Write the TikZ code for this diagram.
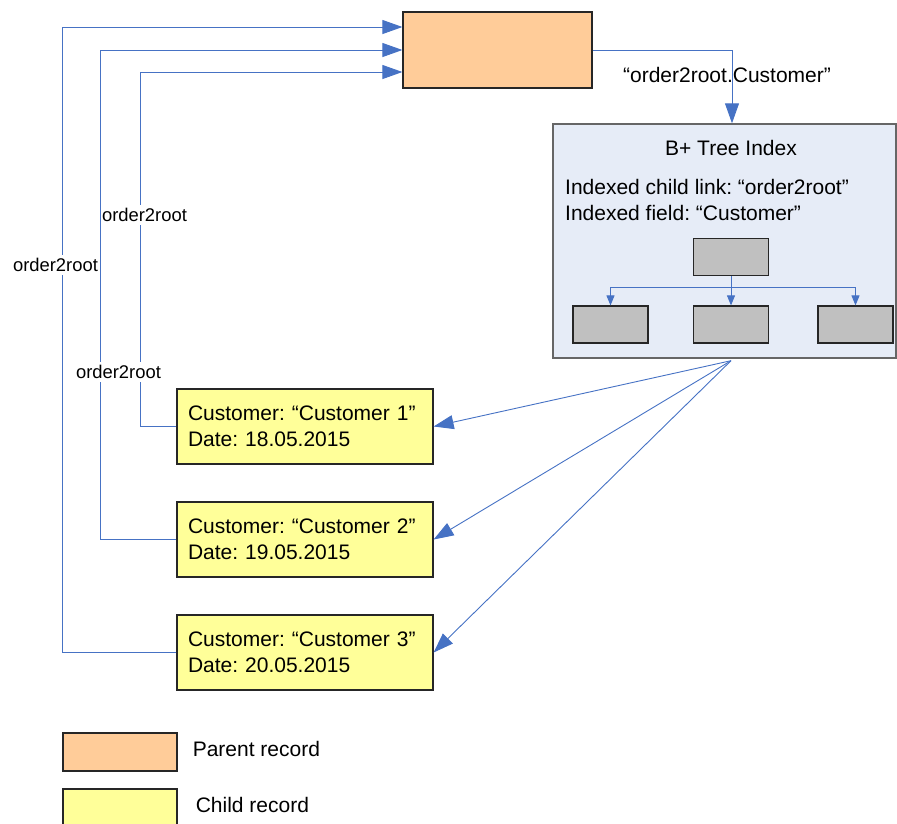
\documentclass[tikz,border=0pt]{standalone}
\usepackage{fontspec}
\setmainfont{Liberation Sans}
\usetikzlibrary{arrows.meta,calc,positioning}
\frenchspacing
\definecolor{ixBlue}{RGB}{70,114,196}
\definecolor{ixPeach}{RGB}{255,204,153}
\definecolor{ixLemon}{RGB}{255,255,153}
\definecolor{ixPale}{RGB}{230,236,247}
\definecolor{ixGrey}{RGB}{192,192,192}
\definecolor{ixInk}{RGB}{38,38,38}
\tikzset{
  link/.style={draw=ixBlue,line width=0.9pt,-{Triangle[length=20pt,width=14pt]}},
  twig/.style={draw=ixBlue,line width=0.9pt,-{Triangle[length=10pt,width=8pt]}},
  record/.style={draw=ixInk,line width=1.2pt,inner sep=0pt},
  childbox/.style={record,fill=ixLemon,minimum height=75pt,text width=234pt,inner xsep=11pt,align=left},
  leaf/.style={record,fill=ixGrey,minimum width=75pt,minimum height=37pt},
  tag/.style={fill=white,inner xsep=1pt,inner ysep=3pt,font=\fontsize{18.4}{20}\selectfont},
}
\newcommand{\childrecord}[4]{%
  \node[childbox] (#1) at (305,#2) {Customer: “Customer #3”\\Date: #4};
}

\begin{document}
\begin{tikzpicture}[x=1pt,y=-1pt,font=\fontsize{21}{26}\selectfont]
  \useasboundingbox (0,0) rectangle (897,823);
  % parent and index
  \node[record,fill=ixPeach,minimum width=189pt,minimum height=76pt] (parent) at (497.5,50) {};
  \node[draw=black!60,line width=1.4pt,fill=ixPale,minimum width=343pt,minimum height=234pt,inner sep=0pt] (index) at (724.5,241) {};
  \node (title) at (731,148) {B+ Tree Index};
  \node[anchor=west,inner sep=0pt] (linkfield) at (565,187) {Indexed child link: “order2root”};
  \node[anchor=west,inner sep=0pt] (keyfield) at (565,213) {Indexed field: “Customer”};
  \node[leaf] (root) at (731,257) {};
  \node[leaf] (leafl) at (610.5,324.5) {};
  \node[leaf] (leafm) at (731,324.5) {};
  \node[leaf] (leafr) at (855.5,324.5) {};
  \draw[twig] (root.south) -- (leafm.north);
  \draw[twig] (root.south) -- ++(0,11) -| (leafl.north);
  \draw[twig] (root.south) -- ++(0,11) -| (leafr.north);
  \draw[link] (parent.east) -| ($(index.north)+(7.5,0)$);
  \node (indexkey) at (727,75) {“order2root.Customer”};

  % child records
  \childrecord{c1}{426.5}{1}{18.05.2015}
  \childrecord{c2}{539.5}{2}{19.05.2015}
  \childrecord{c3}{652.5}{3}{20.05.2015}
  \coordinate (fan) at ($(index.south)+(6.5,2)$);
  \foreach \c in {c1,c2,c3}
    \draw[link] (fan) -- (\c.east);
  \draw[link] (c1.west) -- ++(-36,0) |- ($(parent.west)+(0,22)$);
  \draw[link] (c2.west) -- ++(-76,0) |- (parent.west);
  \draw[link] (c3.west) -- ++(-114,0) |- ($(parent.west)+(0,-23)$);
  \node[tag] (tag1) at (144.5,215) {order2root};
  \node[tag] (tag2) at (55.5,265) {order2root};
  \node[tag] (tag3) at (118.5,372) {order2root};

  % legend
  \node[record,fill=ixPeach,minimum width=114pt,minimum height=38pt] (keyparent) at (120,752) {};
  \node[inner sep=0pt,right=15pt of keyparent,yshift=3pt] (keyparenttext) {Parent record};
  \node[record,fill=ixLemon,minimum width=114pt,minimum height=38pt] (keychild) at (120,808) {};
  \node[inner sep=0pt,right=18pt of keychild,yshift=3pt] (keychildtext) {Child record};
\end{tikzpicture}
\end{document}
